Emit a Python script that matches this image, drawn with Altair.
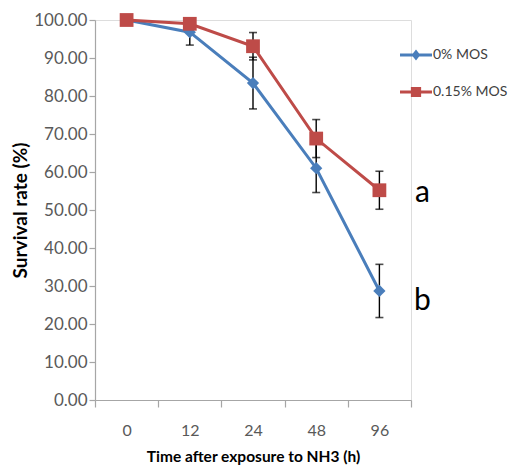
import altair as alt
import pandas as pd

times = ["0", "12", "24", "48", "96"]
series = ["0% MOS", "0.15% MOS"]
colors = ["#4a7ebb", "#be4b48"]

mos0 = [100.0, 96.8, 83.4, 61.0, 28.7]
mos0_err = [0.0, 3.4, 6.8, 6.4, 7.0]
mos15 = [100.0, 99.0, 93.1, 68.8, 55.2]
mos15_err = [0.0, 1.5, 3.6, 5.0, 5.0]

letters = ["b", "a"]
letter_time = ["96", "96"]
letter_y = [23.7, 52.1]

y_ticks = [0, 10, 20, 30, 40, 50, 60, 70, 80, 90, 100]

rows = []
for s, vals, errs in [(series[0], mos0, mos0_err), (series[1], mos15, mos15_err)]:
    for t, v, e in zip(times, vals, errs):
        rows.append({"time": t, "series": s, "value": v, "err": e,
                     "lo": v - e, "hi": v + e})
df = pd.DataFrame(rows)
err_df = df[df["err"] > 0]
letters_df = pd.DataFrame({"time": letter_time, "label": letters, "y": letter_y})

FONT = "Lato"

x_scale = alt.Scale(type="band", domain=times, paddingInner=0, paddingOuter=0)
y_scale = alt.Scale(domain=[0, 100], nice=False)

x_axis = alt.Axis(title="Time after exposure to NH3 (h)", labelAngle=0,
                  tickBand="extent", tickSize=7, labelPadding=15,
                  titlePadding=11, labelFont=FONT, labelFontSize=16,
                  labelColor="#595959", titleFont=FONT, titleFontSize=15.5,
                  titleFontWeight="bold", titleColor="#000000",
                  domainColor="#a6a6a6", tickColor="#a6a6a6",
                  domainWidth=1.2, tickWidth=1.2)
y_axis = alt.Axis(title="Survival rate (%)", values=y_ticks, format=".2f", grid=False,
                  labelOverlap=False, tickSize=6, labelPadding=2, titlePadding=3,
                  labelFont=FONT, labelFontSize=17, labelColor="#595959",
                  titleFont=FONT, titleFontSize=19, titleFontWeight="bold",
                  titleColor="#000000", domainColor="#a6a6a6", tickColor="#a6a6a6",
                  domainWidth=1.2, tickWidth=1.2)


def X():
    return alt.X("time:N", scale=x_scale, sort=times, axis=x_axis)


def Y(field):
    return alt.Y(field, scale=y_scale, axis=y_axis)


color_scale = alt.Scale(domain=series, range=colors)

base = alt.Chart(df)

err_rule = alt.Chart(err_df).mark_rule(color="black", strokeWidth=1.4).encode(
    x=X(), y=Y("lo:Q"), y2="hi:Q")
cap_lo = alt.Chart(err_df).mark_tick(color="black", size=8, thickness=1.6).encode(
    x=X(), y=Y("lo:Q"))
cap_hi = alt.Chart(err_df).mark_tick(color="black", size=8, thickness=1.6).encode(
    x=X(), y=Y("hi:Q"))


def series_layers(name, color, shape, size):
    sub = base.transform_filter(alt.datum.series == name)
    line = sub.mark_line(color=color, strokeWidth=3).encode(x=X(), y=Y("value:Q"))
    pts = sub.mark_point(color=color, filled=True, opacity=1, shape=shape,
                         size=size).encode(x=X(), y=Y("value:Q"))
    return line, pts


l0, p0 = series_layers(series[0], colors[0], "diamond", 150)
l1, p1 = series_layers(series[1], colors[1], "square", 190)

diamond_path = ("M-1,-0.09H1V0.09H-1Z "
                "M0,-0.34L0.27,0L0,0.34L-0.27,0Z")
square_path = ("M-1,-0.09H1V0.09H-1Z "
               "M-0.32,-0.32H0.32V0.32H-0.32Z")

leg = alt.Legend(title=None, orient="none", legendX=305, legendY=19, symbolSize=1024,
                 labelFont=FONT, labelFontSize=14, labelColor="#404040", labelOffset=1,
                 rowPadding=14, padding=0, symbolStrokeWidth=0, symbolOpacity=1,
                 labelLimit=200)

legend_layer = base.mark_point(filled=True, opacity=0, size=1024).encode(
    x=X(), y=Y("value:Q"),
    color=alt.Color("series:N", scale=color_scale, legend=leg),
    shape=alt.Shape("series:N", scale=alt.Scale(domain=series,
                                                range=[diamond_path, square_path]),
                    legend=leg),
)

text = alt.Chart(letters_df).mark_text(font=FONT, fontSize=30, color="black",
                                       align="center", baseline="alphabetic",
                                       dx=43).encode(
    x=X(), y=Y("y:Q"), text="label:N")

chart = alt.layer(err_rule, cap_lo, cap_hi, l0, p0, l1, p1, legend_layer, text).properties(
    width=316, height=380,
    padding={"left": 87, "top": 12, "right": 97, "bottom": 66},
    autosize=alt.AutoSizeParams(type="none"),
).configure_view(stroke=None).configure(background="white")

chart.save("out.html", embed_options={"renderer": "svg", "actions": False})
